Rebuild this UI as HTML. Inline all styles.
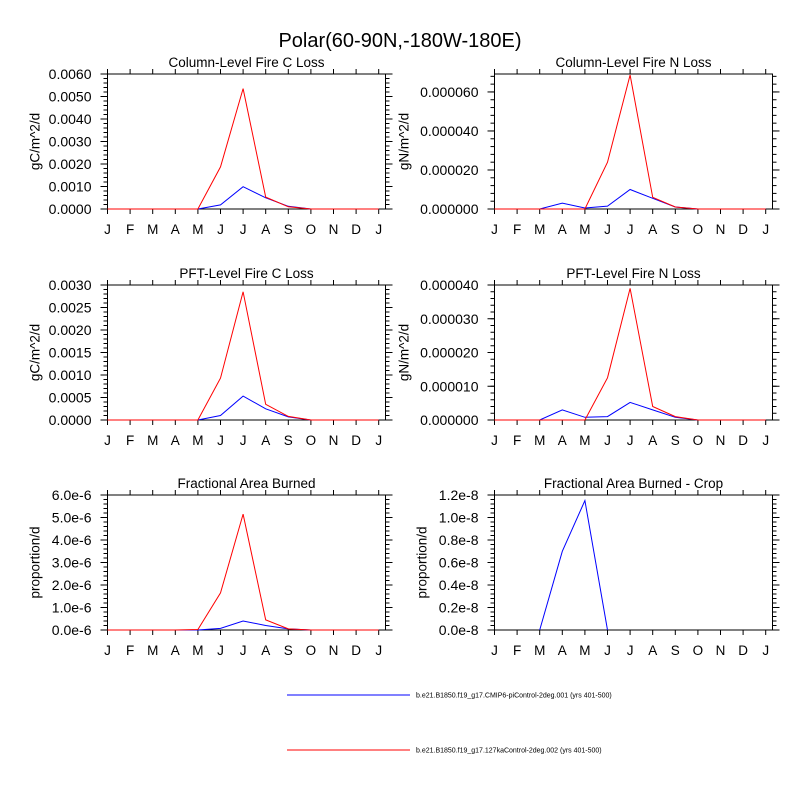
<!DOCTYPE html>
<html><head><meta charset="utf-8"><style>
body{margin:0;background:#fff;}
svg text{font-family:"Liberation Sans",sans-serif;fill:#000;}
</style></head><body>
<svg id="chart" width="800" height="800" xmlns="http://www.w3.org/2000/svg">
<text x="400" y="47" text-anchor="middle" font-size="20">Polar(60-90N,-180W-180E)</text>
<g id="panels"></g>
<g>
<line x1="287" y1="695" x2="410" y2="695" stroke="#00f" stroke-width="1"/>
<text x="416" y="697.5" font-size="7">b.e21.B1850.f19_g17.CMIP6-piControl-2deg.001 (yrs 401-500)</text>
<line x1="287" y1="750" x2="410" y2="750" stroke="#f00" stroke-width="1"/>
<text x="416" y="752.5" font-size="7">b.e21.B1850.f19_g17.127kaControl-2deg.002 (yrs 401-500)</text>
</g>
</svg>
<script>
const months=["J","F","M","A","M","J","J","A","S","O","N","D","J"];
const titles=["Column-Level Fire C Loss","Column-Level Fire N Loss","PFT-Level Fire C Loss","PFT-Level Fire N Loss","Fractional Area Burned","Fractional Area Burned - Crop"];
const yTitles=["gC/m^2/d","gN/m^2/d","gC/m^2/d","gN/m^2/d","proportion/d","proportion/d"];
const yMax=[0.006,0.0000692,0.003,0.00004,6e-6,1.2e-8];
const yTickVals=[[0,0.001,0.002,0.003,0.004,0.005,0.006],[0,0.00002,0.00004,0.00006],[0,0.0005,0.001,0.0015,0.002,0.0025,0.003],[0,0.00001,0.00002,0.00003,0.00004],[0,1e-6,2e-6,3e-6,4e-6,5e-6,6e-6],[0,0.2e-8,0.4e-8,0.6e-8,0.8e-8,1.0e-8,1.2e-8]];
const yTickLabels=[["0.0000","0.0010","0.0020","0.0030","0.0040","0.0050","0.0060"],["0.000000","0.000020","0.000040","0.000060"],["0.0000","0.0005","0.0010","0.0015","0.0020","0.0025","0.0030"],["0.000000","0.000010","0.000020","0.000030","0.000040"],["0.0e-6","1.0e-6","2.0e-6","3.0e-6","4.0e-6","5.0e-6","6.0e-6"],["0.0e-8","0.2e-8","0.4e-8","0.6e-8","0.8e-8","1.0e-8","1.2e-8"]];
const blue0=[0,0,0,0,0,0.00018,0.00099,0.0005,0.00012,0,0,0,0];
const red0=[0,0,0,0,0,0.00187,0.00535,0.00053,0.0001,0,0,0,0];
const blue1=[0,0,0,0.000003,0.0000005,0.0000015,0.00001,0.0000055,0.000001,0,0,0,0];
const red1=[0,0,0,0,0,0.000024,0.0000687,0.000006,0.000001,0,0,0,0];
const blue2=[0,0,0,0,0,0.0001,0.00053,0.00025,0.00007,0,0,0,0];
const red2=[0,0,0,0,0,0.00093,0.00285,0.00035,0.00008,0,0,0,0];
const blue3=[0,0,0,0.000003,0.0000008,0.000001,0.0000052,0.000003,0.0000008,0,0,0,0];
const red3=[0,0,0,0,0,0.0000125,0.000039,0.000004,0.000001,0,0,0,0];
const blue4=[0,0,0,0,0,0.00000007,0.0000004,0.0000002,0.00000005,0,0,0,0];
const red4=[0,0,0,0,0.00000002,0.00000165,0.00000515,0.00000045,0.00000005,0,0,0,0];
const blue5=[null,null,0,0.7e-8,1.15e-8,0,null,null,null,null,null,null,null];
const red5=[null,null,null,null,null,null,null,null,null,null,null,null,null];
const blues=[blue0,blue1,blue2,blue3,blue4,blue5];
const reds=[red0,red1,red2,red3,red4,red5];
const NS="http://www.w3.org/2000/svg";
const root=document.getElementById('panels');
function mk(tag,attrs,parent){const e=document.createElementNS(NS,tag);for(const k in attrs)e.setAttribute(k,attrs[k]);parent.appendChild(e);return e;}
const lefts=[107.5,494.5], tops=[74,285,495], W=278, H=135, step=22.6;
for(let p=0;p<6;p++){
  const L=lefts[p%2], T=tops[Math.floor(p/2)], B=T+H;
  const g=mk('g',{},root);
  
  
  const xs=i=>L+i*step;
  const ys=v=>B-v/yMax[p]*H;
  const t=mk('text',{x:L+W/2,y:T-7,'text-anchor':'middle','font-size':'13.5'},g);t.textContent=titles[p];
  
  const off=(p===1||p===3)?86:68;
  const yt=mk('text',{transform:`translate(${L-off},${T+H/2}) rotate(-90)`,'text-anchor':'middle','font-size':'13.5'},g);yt.textContent=yTitles[p];
  
  const fr=mk('rect',{x:L,y:T,width:W,height:H,fill:'none',stroke:'#000','stroke-width':'1'},g);
  
  for(let i=0;i<13;i++){
    mk('line',{x1:xs(i),y1:B,x2:xs(i),y2:B+5,stroke:'#000'},g);
    mk('line',{x1:xs(i),y1:T,x2:xs(i),y2:T-5,stroke:'#000'},g);
    const lb=mk('text',{x:xs(i),y:B+25,'text-anchor':'middle','font-size':'13.5'},g);lb.textContent=months[i];
    
  }
  const tv=yTickVals[p];
  const minorStep=(tv[1]-tv[0])/5;
  for(let v=0;v<=yMax[p]*1.0001;v+=minorStep){
    mk('line',{x1:L,y1:ys(v),x2:L-4,y2:ys(v),stroke:'#000'},g);
    mk('line',{x1:L+W,y1:ys(v),x2:L+W+4,y2:ys(v),stroke:'#000'},g);
  }
  tv.forEach((v,i)=>{
    mk('line',{x1:L,y1:ys(v),x2:L-7,y2:ys(v),stroke:'#000'},g);
    mk('line',{x1:L+W,y1:ys(v),x2:L+W+7,y2:ys(v),stroke:'#000'},g);
    const lb=mk('text',{x:L-16,y:ys(v)+5,'text-anchor':'end','font-size':'14'},g);lb.textContent=yTickLabels[p][i];
    
  });
  [[blues[p],'#00f','blue-series'],[reds[p],'#f00','red-series']].forEach(([arr,col,nm])=>{
    let d='',pen=false;
    arr.forEach((v,i)=>{if(v===null){pen=false;return;}d+=(pen?'L':'M')+xs(i).toFixed(1)+','+ys(v).toFixed(1);pen=true;});
    if(!d)return;
    const pa=mk('path',{d:d,fill:'none',stroke:col,'stroke-width':'1'},g);
    
  });
}
</script>
</body></html>
